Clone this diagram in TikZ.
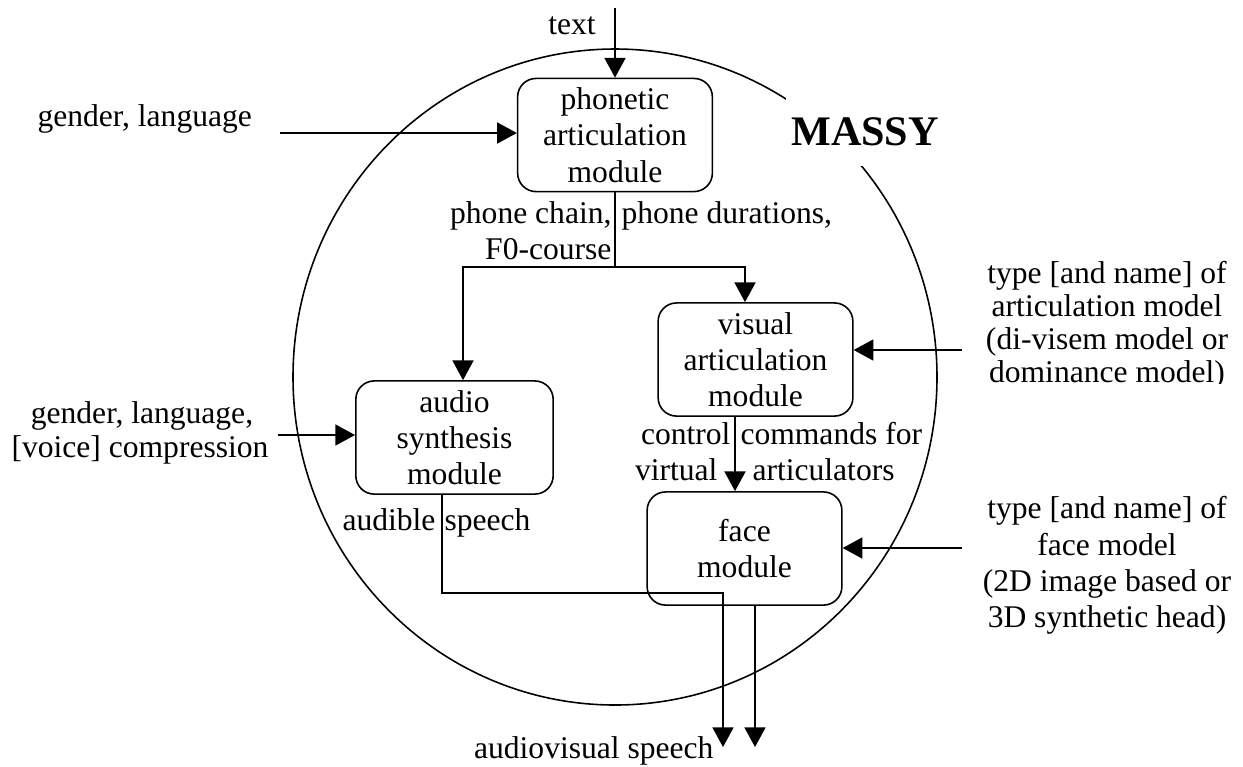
\documentclass[tikz,border=0pt]{standalone}
\usepackage{fontspec}
\setmainfont{Liberation Serif}
\usetikzlibrary{arrows.meta}
\begin{document}
\begin{tikzpicture}[x=0.38pt,y=-0.38pt,
  every node/.style={font=\fontsize{12}{13.8}\selectfont, inner sep=0pt},
  module/.style={draw, line width=0.6pt, rounded corners=7pt, align=center,
    minimum width=74pt, minimum height=43pt},
  arr/.style={-{Triangle[length=7.5pt,width=8pt]}, line width=0.6pt},
  conn/.style={line width=0.6pt},
  lbl/.style={anchor=base}]
\useasboundingbox (0,0) rectangle (1243,766);

% system boundary
\draw[conn] (615,377) ellipse [x radius=322, y radius=328];
\node[fill=white, minimum width=60pt, minimum height=26pt,
  font=\fontsize{16}{18}\selectfont\bfseries] (massy) at (865,132) {MASSY};

% modules
\node[module] (phon) at (615,135) {phonetic\\articulation\\module};
\node[module, minimum width=75pt] (audio) at (454.5,437.5) {audio\\synthesis\\module};
\node[module] (vis) at (755.5,359.5) {visual\\articulation\\module};
\node[module] (face) at (744.5,548.5) {face\\module};

% free ends
\coordinate (tin) at (615,8);
\coordinate (gl) at (280,133);
\coordinate (gl2) at (278,435);
\coordinate (ri1) at (962,350);
\coordinate (ri2) at (962,548);
\coordinate (split) at (615,267);
\coordinate (sa) at (463,267);
\coordinate (sv) at (745,267);
\coordinate (vf) at (735,0);
\coordinate (ab) at (442,593);
\coordinate (o1) at (723,747);
\coordinate (o2) at (755,747);

% connectors
\draw[arr] (tin) -- (tin |- phon.north);
\draw[arr] (gl) -- (gl -| phon.west);
\draw[arr] (gl2) -- (gl2 -| audio.west);
\draw[arr] (ri1) -- (ri1 -| vis.east);
\draw[arr] (ri2) -- (ri2 -| face.east);
\draw[conn] (phon.south) -- (split);
\draw[arr] (split) -- (sa) -- (sa |- audio.north);
\draw[arr] (split) -- (sv) -- (sv |- vis.north);
\draw[arr] (vis.south -| vf) -- (face.north -| vf);
\draw[arr] (audio.south -| ab) -- (ab) -| (o1);
\draw[arr] (face.south -| o2) -- (o2);

% labels
\node[lbl] (ltext) at (572,34) {text};
\node[anchor=base west] (lgl) at (37,126) {gender, language};
\node[lbl] (lgl2a) at (142,423) {gender, language,};
\node[lbl] (lgl2b) at (140,457) {[voice] compression};
\node[anchor=base east] (lpc) at (612,223) {phone chain,};
\node[anchor=base east] (lf0) at (612,259) {F0-course};
\node[anchor=base west] (lpd) at (621,223) {phone durations,};
\node[anchor=base east] (lctl) at (731,444) {control};
\node[anchor=base west] (lcmd) at (740,444) {commands for};
\node[anchor=base east] (lvirt) at (718,480) {virtual};
\node[anchor=base west] (lart) at (752,480) {articulators};
\node[anchor=base east] (laud) at (436,530) {audible};
\node[anchor=base west] (lsp) at (444,530) {speech};
\node[anchor=base east] (lav) at (714,758) {audiovisual speech};

\begin{scope}
  \clip (965,240) rectangle (1243,383);
  \node[lbl] (r1a) at (1107,283) {type [and name] of};
  \node[lbl] (r1b) at (1107,316) {articulation model};
  \node[lbl] (r1c) at (1107,349) {(di-visem model or};
  \node[lbl] (r1d) at (1107,382) {dominance model)};
\end{scope}
\node[lbl] (r2a) at (1107,518) {type [and name] of};
\node[lbl] (r2b) at (1107,555) {face model};
\node[lbl] (r2c) at (1107,591) {(2D image based or};
\node[lbl] (r2d) at (1107,627) {3D synthetic head)};
\end{tikzpicture}
\end{document}
